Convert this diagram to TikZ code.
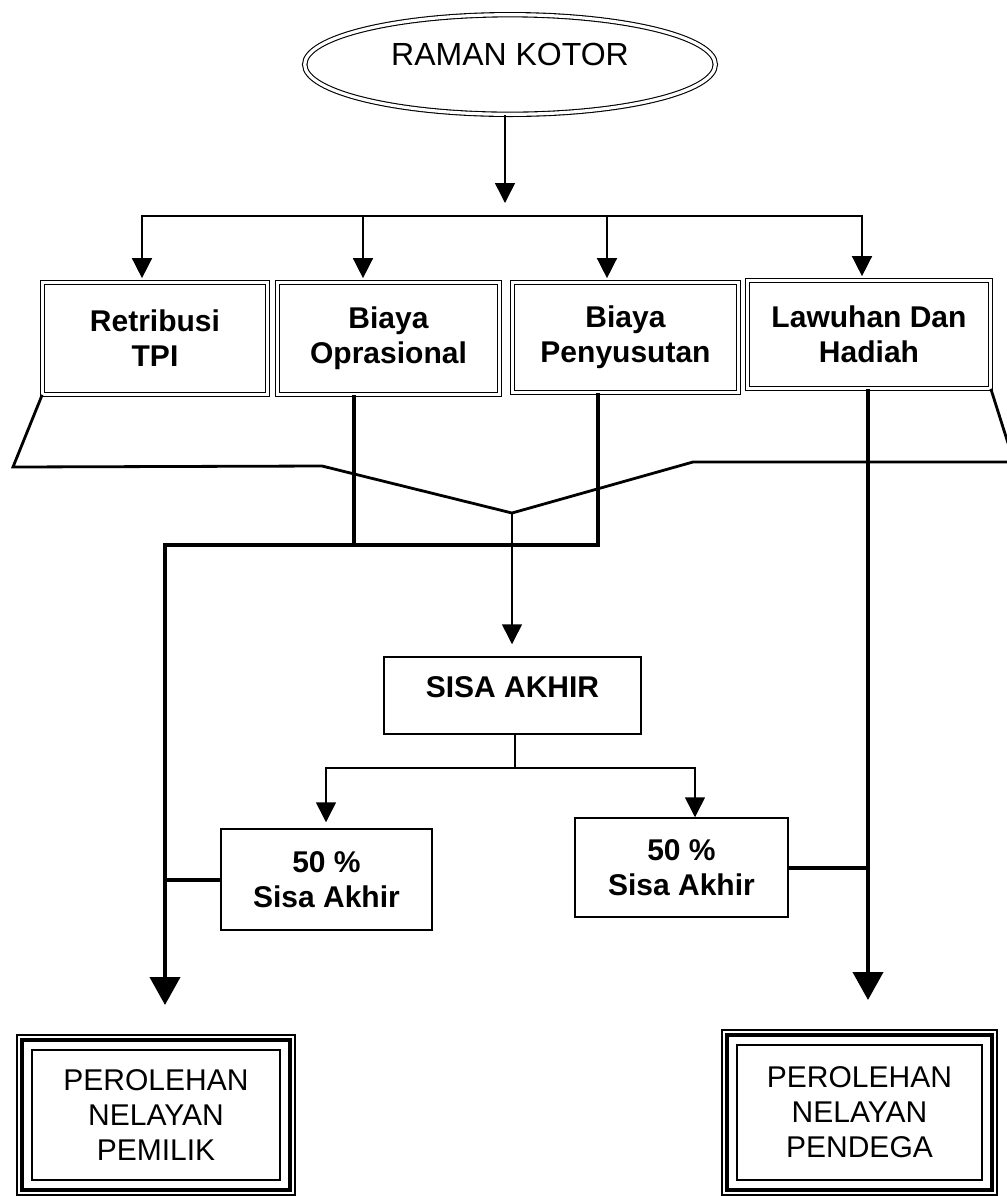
\documentclass[tikz,border=0pt]{standalone}
\usepackage{fontspec}
\setmainfont{Liberation Sans}
\usetikzlibrary{arrows.meta,shapes.geometric}
\begin{document}
\begin{tikzpicture}[x=0.5pt,y=-0.5pt,
  lbl/.style={font=\fontsize{15}{17.5}\selectfont\bfseries},
  dbox/.style={lbl, draw, double, line width=0.55pt, double distance=1.6pt, rectangle, inner sep=0pt, align=center},
  sbox/.style={lbl, draw, line width=0.75pt, rectangle, inner sep=0pt, align=center},
  fbox/.style={draw, line width=2pt, rectangle, inner sep=0pt, align=center, font=\fontsize{15}{17.5}\selectfont},
  thinframe/.style={line width=0.6pt},
  conn/.style={line width=0.75pt},
  arr/.style={conn, -{Triangle[length=10pt,width=10pt]}},
  heavy/.style={line width=2pt, line join=miter},
  bigarr/.style={heavy, -{Triangle[length=14pt,width=15pt]}},
  vline/.style={line width=1.4pt, line join=miter},
]
\clip (0,0) rectangle (1007,1196);
\fill[white] (0,0) rectangle (1007,1196);

% top ellipse
\node[ellipse, draw, double, line width=0.55pt, double distance=1.6pt,
      minimum width=205.3pt, minimum height=49.8pt, inner sep=0pt,
      font=\fontsize{16}{19}\selectfont, text height=11.5pt, text depth=10.5pt]
      (rk) at (510,64.5) {RAMAN KOTOR\hspace{15pt}};

% cost boxes
\node[dbox, minimum width=112.3pt, minimum height=55.8pt] (rb) at (155,338.5) {Retribusi\\TPI};
\node[dbox, minimum width=110.8pt, minimum height=55.8pt] (bo) at (388.5,338.5) {Biaya\\Oprasional};
\node[dbox, minimum width=112.8pt, minimum height=54.8pt] (bp) at (625.5,337.5) {Biaya\\Penyusutan};
\node[dbox, minimum width=121.3pt, minimum height=53.8pt] (lh) at (869,334.5) {Lawuhan Dan\\Hadiah};

% sisa akhir
\node[lbl, draw, line width=0.75pt, rectangle, inner sep=0pt,
      minimum width=128.5pt, minimum height=38.5pt, text height=10.7pt, text depth=8.5pt]
      (sa) at (512.5,695.5) {SISA AKHIR};
\node[sbox, minimum width=105.5pt, minimum height=50.5pt] (ls) at (326.5,879.5) {50 \%\\Sisa Akhir};
\node[sbox, minimum width=106.5pt, minimum height=49.5pt] (rs) at (681.5,867.5) {50 \%\\Sisa Akhir};

% result boxes
\node[fbox, minimum width=134pt, minimum height=75pt] (pe) at (156,1115) {PEROLEHAN\\NELAYAN\\PEMILIK};
\node[fbox, minimum width=132.5pt, minimum height=77.5pt] (pd) at (859.5,1112.5) {PEROLEHAN\\NELAYAN\\PENDEGA};
\draw[thinframe] ([shift={(-3,3)}]pe.south west) rectangle ([shift={(3,-3)}]pe.north east);
\draw[thinframe] ([shift={(12,-12)}]pe.south west) rectangle ([shift={(-12,12)}]pe.north east);
\draw[thinframe] ([shift={(-3,3)}]pd.south west) rectangle ([shift={(3,-3)}]pd.north east);
\draw[thinframe] ([shift={(12,-12)}]pd.south west) rectangle ([shift={(-12,12)}]pd.north east);

% coordinates
\coordinate (a0) at (505,203);
\coordinate (b1) at (142,216);
\coordinate (b2) at (363,216);
\coordinate (b3) at (607,216);
\coordinate (b4) at (862,216);
\coordinate (j1) at (165,545);
\coordinate (j2) at (354,545);
\coordinate (j3) at (598,545);
\coordinate (k) at (868,872);
\coordinate (v0) at (512,513);
\coordinate (vl1) at (13,467);
\coordinate (vl2) at (322,466);
\coordinate (vr1) at (693,462);
\coordinate (vr2) at (1014,462);
\coordinate (s0) at (515,768);
\coordinate (sl) at (326,768);
\coordinate (sr) at (695,768);

% top distribution
\draw[arr] (rk.south -| a0) -- (a0);
\draw[conn] (b2) -- (b3);
\draw[arr, shorten >=2pt] (b2) -- (b1) -- (b1 |- rb.north);
\draw[arr, shorten >=2pt] (b3) -- (b4) -- (b4 |- lh.north);
\draw[arr, shorten >=2pt] (b2) -- (b2 |- bo.north);
\draw[arr, shorten >=2pt] (b3) -- (b3 |- bp.north);

% deductions funnel
\draw[vline] (rb.south west) -- (vl1) -- (vl2) -- (v0) -- (vr1) -- (vr2) -- (lh.south east);
\draw[arr, shorten >=6pt] (v0) -- (v0 |- sa.north);

% split of sisa akhir
\draw[conn] (sa.south -| s0) -- (s0);
\draw[arr, shorten >=3pt] (s0) -- (sl) -- (sl |- ls.north);
\draw[arr] (s0) -- (sr) -- (sr |- rs.north);

% owner side
\draw[heavy] (bo.south -| j2) -- (j2);
\draw[bigarr, shorten >=16.5pt] (bp.south -| j3) -- (j3) -- (j1) -- (j1 |- pe.north);
\draw[heavy] (ls.west) -- (ls.west -| j1);

% crew side
\draw[bigarr, shorten >=16.5pt] (lh.south -| k) -- (k |- pd.north);
\draw[heavy] (rs.east) -- (rs.east -| k);
\end{tikzpicture}
\end{document}
